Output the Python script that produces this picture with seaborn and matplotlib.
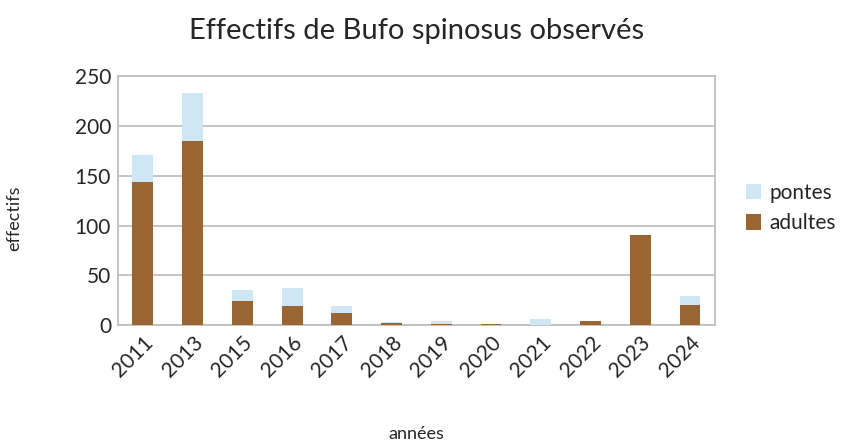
import pandas as pd
import matplotlib.pyplot as plt
import seaborn as sns

# values
annees = ['2011', '2013', '2015', '2016', '2017', '2018', '2019', '2020', '2021', '2022', '2023', '2024']
adultes = [144, 185, 24, 19, 12, 2, 1, 1.5, 0, 4, 91, 20]
pontes = [27, 48, 11, 18, 7, 1, 3, 0, 6, 0, 0, 9]

df = pd.DataFrame({'annees': annees, 'adultes': adultes, 'pontes': pontes})
df['total'] = df['adultes'] + df['pontes']

sns.set_style('white')
plt.rcParams['font.family'] = ['Lato', 'DejaVu Sans']

fig = plt.figure(figsize=(8.43, 4.43), dpi=100)
ax = fig.add_axes([0.14, 0.266, 0.708, 0.562])

sns.barplot(data=df, x='annees', y='total', color='#CFE6F5', width=0.42,
            saturation=1, ax=ax, label='pontes', zorder=3, linewidth=0)
sns.barplot(data=df, x='annees', y='adultes', color='#996633', width=0.42,
            saturation=1, ax=ax, label='adultes', zorder=3, linewidth=0)

ax.set_ylim(0, 250)
ax.set_yticks(range(0, 251, 50))
ax.yaxis.grid(True, color='#BFBFBF', linewidth=1.3, zorder=0)
ax.set_axisbelow(True)
for s in ax.spines.values():
    s.set_color('#BFBFBF')
    s.set_linewidth(1.3)

ax.tick_params(axis='both', length=0, labelsize=15, pad=5)
plt.setp(ax.get_xticklabels(), rotation=45, ha='right', rotation_mode='anchor')

ax.set_xlabel('années', fontsize=13, labelpad=33)
ax.set_ylabel('effectifs', fontsize=13, labelpad=38)
ax.yaxis.label.set_y(0.43)
ax.set_title('Effectifs de Bufo spinosus observés', fontsize=21, pad=27)

ax.legend(loc='center left', bbox_to_anchor=(1.02, 0.47), frameon=False,
          fontsize=15, handlelength=0.75, handleheight=0.75, handletextpad=0.4,
          labelspacing=0.5)

fig.savefig('out.png', dpi=100)
